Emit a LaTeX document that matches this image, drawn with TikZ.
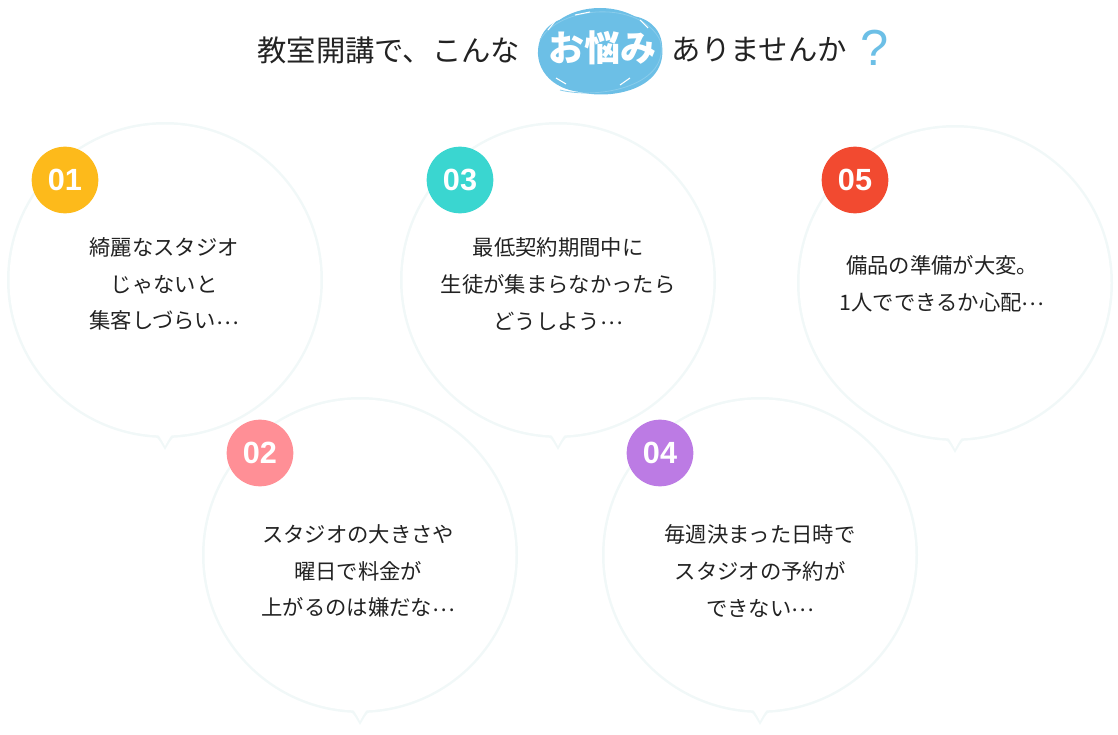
\documentclass[tikz,border=0pt]{standalone}
\usepackage{fontspec}
\setmainfont{Noto Sans CJK JP}
\newfontfamily\numfont{Liberation Sans}
\newcommand{\mdots}{\raisebox{0.4ex}{…}}
\definecolor{rim}{HTML}{F1F8F8}
\definecolor{txt}{HTML}{222222}
\definecolor{blob}{HTML}{6CBFE6}
\definecolor{cA}{HTML}{FDBA1B}
\definecolor{cB}{HTML}{FF8F96}
\definecolor{cC}{HTML}{3AD6D0}
\definecolor{cD}{HTML}{BC7BE4}
\definecolor{cE}{HTML}{F24A30}
\tikzset{
 body/.style={font=\fontsize{16}{27.5}\selectfont, text=txt, align=center},
 badge/.style={circle, minimum size=50pt, inner sep=0pt, text=white, font=\numfont\bfseries\fontsize{23}{23}\selectfont},
 title/.style={font=\fontsize{22}{22}\selectfont, text=txt},
}
\newcommand{\bubble}[3]{%
 \fill[rim] (#1-22,#2+150) .. controls (#1-8,#2+156) .. (#1,#2+170) .. controls (#1+8,#2+156) .. (#1+22,#2+150) -- cycle;
 \fill[rim] (#1,#2) circle (158);
 \fill[white] (#1-20,#2+148) .. controls (#1-7,#2+153) .. (#1,#2+166) .. controls (#1+7,#2+153) .. (#1+20,#2+148) -- cycle;
 \fill[white] (#1,#2) circle (155.5);
 \node[body] (#3) at (#1,#2) {};
}
\begin{document}
\begin{tikzpicture}[x=0.75pt,y=-0.75pt]
\useasboundingbox (0,0) rectangle (1118,735);
% title
\fill[blob] (595,52) .. controls (600,0) and (660,10) .. (662,45) .. controls (668,90) and (610,100) .. (580,92) .. controls (545,88) and (530,60) .. (542,35) .. controls (552,15) and (590,5) .. (595,52);
\fill[blob] (600,50) ellipse (58 and 42);
\draw[blob!80, line width=0.6pt] (540,40) .. controls (560,5) and (640,0) .. (660,40) .. controls (672,85) and (600,100) .. (560,90);
\draw[white, line width=0.8pt] (548,30) -- (556,20) (575,15) -- (590,12) (620,85) -- (630,78) (556,78) -- (566,84) (640,20) -- (648,28);
\node[title, anchor=east] (t1) at (525,50) {教室開講で、こんな};
\node[font=\bfseries\fontsize{27}{27}\selectfont, text=white] (t2) at (602,48) {お悩み};
\node[title, anchor=west] (t3) at (667,50) {ありませんか};
\node[font=\numfont\fontsize{38}{38}\selectfont, text=blob] (q) at (875,48) {?};
% bubbles
\bubble{165}{280}{b1}
\bubble{558}{280}{b3}
\bubble{955}{283}{b5}
\bubble{360}{555}{b2}
\bubble{760}{555}{b4}
\node[body] at (164,284) {綺麗なスタジオ\\じゃないと\\集客しづらい\mdots};
\node[body] at (558,284) {最低契約期間中に\\生徒が集まらなかったら\\どうしよう\mdots};
\node[body] at (942,284) {備品の準備が大変。\\1人でできるか心配\mdots};
\node[body] at (358,571) {スタジオの大きさや\\曜日で料金が\\上がるのは嫌だな\mdots};
\node[body] at (760,571) {毎週決まった日時で\\スタジオの予約が\\できない\mdots};
\node[badge, fill=cA] (n1) at (65,180) {01};
\node[badge, fill=cC] (n3) at (460,180) {03};
\node[badge, fill=cE] (n5) at (855,180) {05};
\node[badge, fill=cB] (n2) at (260,453) {02};
\node[badge, fill=cD] (n4) at (660,453) {04};
\end{tikzpicture}
\end{document}
